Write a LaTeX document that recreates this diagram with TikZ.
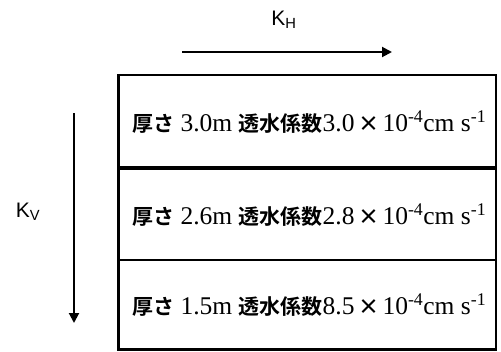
\documentclass[tikz,border=0pt]{standalone}
\usepackage{fontspec}
\setmainfont{Liberation Serif}
\setsansfont{Liberation Sans}
\newfontfamily\cjk{Noto Sans CJK JP}[BoldFont={Noto Sans CJK JP Bold}]
\usetikzlibrary{arrows.meta}
\tikzset{
  layer/.style={draw=black, line width=2.6pt},
  lbl/.style={anchor=west, inner sep=0pt, font=\fontsize{25.5}{28}\selectfont},
  flow/.style={line width=2pt, -{Triangle[length=10pt,width=10pt]}},
  klbl/.style={inner sep=0pt, font=\sffamily\fontsize{21}{24}\selectfont}
}
\newcommand{\jp}[1]{{\cjk\bfseries\fontsize{21}{24}\selectfont #1}}
\newcommand{\layertext}[2]{\jp{厚さ} #1m \jp{透水係数}#2\jp{\,×\,}10\textsuperscript{-4}cm s\textsuperscript{-1}}
\begin{document}
\begin{tikzpicture}[x=1pt,y=-1pt]
\useasboundingbox (0,0) rectangle (501,351);
\fill[white] (0,0) rectangle (501,351);
\draw[layer] (118.5,75) rectangle (496,168);
\draw[layer] (118.5,168) rectangle (496,260);
\draw[layer] (118.5,260) rectangle (496,349.5);
\draw[line width=4pt] (118.5,168) -- (496,168);
\node[lbl] (t1) at (132,122) {\layertext{3.0}{3.0}};
\node[lbl] (t2) at (132,215) {\layertext{2.6}{2.8}};
\node[lbl] (t3) at (132,305) {\layertext{1.5}{8.5}};
\coordinate (h0) at (182,52);
\coordinate (h1) at (392,52);
\draw[flow] (h0) -- (h1);
\node[klbl] (kh) at (284,20) {K\textsubscript{H}};
\coordinate (v0) at (74,113);
\coordinate (v1) at (74,323);
\draw[flow] (v0) -- (v1);
\node[klbl] (kv) at (28,212) {K\textsubscript{V}};
\end{tikzpicture}
\end{document}
